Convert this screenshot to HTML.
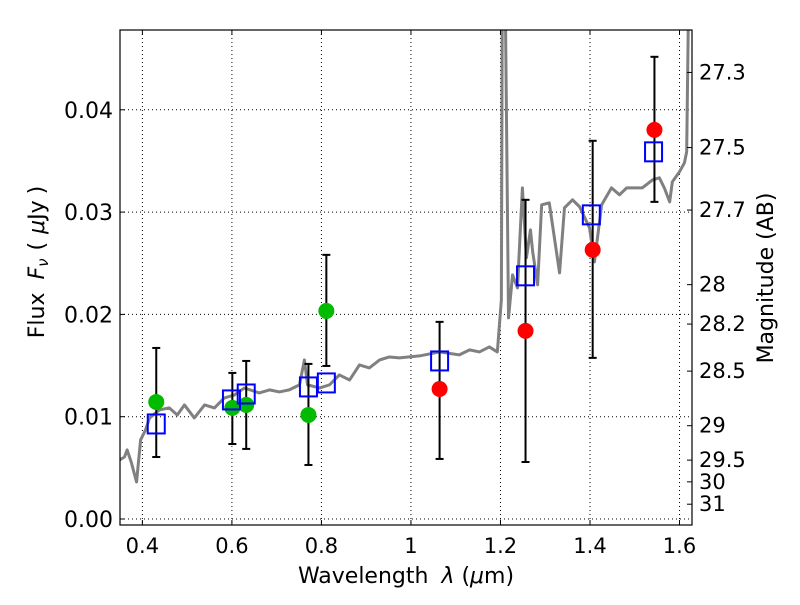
<!DOCTYPE html>
<html><head><meta charset="utf-8"><style>
body{margin:0;background:#fff;}
svg text{font-family:"DejaVu Sans","Liberation Sans",sans-serif;fill:#000;}
</style></head><body>
<svg id="chart" width="800" height="600" xmlns="http://www.w3.org/2000/svg">
<g id="grid"></g>
<g id="spec"></g>
<g id="marks"></g>
<g id="axes"></g>
<text x="406" y="583" font-size="22" text-anchor="middle">Wavelength <tspan dx="6" font-style="italic">λ</tspan> (<tspan font-style="italic">μ</tspan>m)</text>
<text transform="translate(44,262) rotate(-90)" font-size="22" text-anchor="middle">Flux <tspan dx="6" font-style="italic">F</tspan><tspan font-style="italic" font-size="15" dy="4">ν</tspan><tspan dy="-4" dx="8">(</tspan><tspan dx="8" font-style="italic">μ</tspan>Jy<tspan dx="6">)</tspan></text>
<text transform="translate(773,278) rotate(-90)" font-size="22" text-anchor="middle">Magnitude (AB)</text>
</svg>
<script>
const specWave=[0.349,0.360,0.366,0.375,0.387,0.396,0.407,0.416,0.438,0.460,0.478,0.494,0.516,0.539,0.561,0.583,0.606,0.628,0.661,0.684,0.706,0.728,0.751,0.762,0.769,0.796,0.818,0.840,0.863,0.885,0.907,0.930,0.952,0.974,1.019,1.064,1.108,1.131,1.153,1.175,1.193,1.202,1.204,1.211,1.218,1.227,1.238,1.249,1.258,1.267,1.272,1.283,1.292,1.309,1.332,1.343,1.361,1.377,1.399,1.410,1.426,1.448,1.466,1.482,1.517,1.540,1.555,1.566,1.578,1.584,1.600,1.611,1.616,1.620];
const specFlux=[0.00577,0.00606,0.00675,0.00557,0.00362,0.00773,0.00870,0.00988,0.01066,0.01086,0.01017,0.01115,0.00988,0.01115,0.01086,0.01183,0.01213,0.01281,0.01232,0.01262,0.01242,0.01262,0.01311,0.01555,0.01311,0.01281,0.01311,0.01408,0.01359,0.01506,0.01477,0.01555,0.01584,0.01575,0.01594,0.01633,0.01604,0.01653,0.01633,0.01682,0.01633,0.02142,0.0498,0.0498,0.01966,0.02386,0.02259,0.03237,0.02553,0.02826,0.02611,0.02289,0.03071,0.03090,0.02406,0.03042,0.03120,0.03051,0.02846,0.02513,0.03071,0.03237,0.03169,0.03237,0.03237,0.03315,0.03335,0.03237,0.03100,0.03296,0.03394,0.03482,0.03589,0.0498];
const greenWave=[0.431,0.601,0.632,0.771,0.811];
const greenFlux=[0.01144,0.01086,0.01115,0.01017,0.02034];
const redWave=[1.064,1.256,1.406,1.544];
const redFlux=[0.01271,0.01839,0.02631,0.03804];
const boxWave=[0.431,0.599,0.632,0.771,0.811,1.064,1.256,1.403,1.542];
const boxFlux=[0.00929,0.01164,0.01222,0.01291,0.0133,0.01545,0.02377,0.02973,0.03589];
const errWave=[0.431,0.601,0.632,0.771,0.811,1.064,1.256,1.406,1.544];
const errHigh=[0.01672,0.01428,0.01545,0.01516,0.02582,0.01927,0.03120,0.03697,0.04518];
const errLow=[0.00606,0.00733,0.00685,0.00528,0.01496,0.00587,0.00557,0.01575,0.03100];
const xTicks=[0.4,0.6,0.8,1.0,1.2,1.4,1.6];
const xTickLabels=["0.4","0.6","0.8","1","1.2","1.4","1.6"];
const yTicks=[0,0.01,0.02,0.03,0.04];
const yTickLabels=["0.00","0.01","0.02","0.03","0.04"];
const magTicks=[27.3,27.5,27.7,28,28.2,28.5,29,29.5,30,31];
const magTickLabels=["27.3","27.5","27.7","28","28.2","28.5","29","29.5","30","31"];

const L=120,R=692,T=30,B=525;
const X0=0.35,X1=1.6279,Y0=-0.000587,Y1=0.0478;
const sx=v=>L+(v-X0)/(X1-X0)*(R-L);
const sy=v=>B-(v-Y0)/(Y1-Y0)*(B-T);
const NS="http://www.w3.org/2000/svg";
function mk(tag,attrs,parent){const e=document.createElementNS(NS,tag);for(const k in attrs)e.setAttribute(k,attrs[k]);parent.appendChild(e);return e;}
const svg=document.getElementById('chart');
const defs=mk('defs',{},svg);const cp=mk('clipPath',{id:'clip'},defs);mk('rect',{x:L,y:T,width:R-L,height:B-T},cp);
const grid=document.getElementById('grid'),axes=document.getElementById('axes');
xTicks.forEach((t,i)=>{const x=sx(t);
 const g=mk('line',{x1:x,x2:x,y1:T,y2:B,stroke:'#000','stroke-width':1,'stroke-dasharray':'1,3'},grid);
 
 mk('line',{x1:x,x2:x,y1:B,y2:B-5,stroke:'#000'},axes);mk('line',{x1:x,x2:x,y1:T,y2:T+5,stroke:'#000'},axes);
 const tx=mk('text',{x:x,y:B+28,'font-size':21,'text-anchor':'middle'},axes);tx.textContent=xTickLabels[i];
 });
yTicks.forEach((t,i)=>{const y=sy(t);
 const g=mk('line',{x1:L,x2:R,y1:y,y2:y,stroke:'#000','stroke-width':1,'stroke-dasharray':'1,3'},grid);
 
 mk('line',{x1:L,x2:L+5,y1:y,y2:y,stroke:'#000'},axes);
 const tx=mk('text',{x:L-7,y:y+8,'font-size':22,'text-anchor':'end'},axes);tx.textContent=yTickLabels[i];
 });
magTicks.forEach((m,i)=>{const f=Math.pow(10,(23.9-m)/2.5);const y=sy(f);
 mk('line',{x1:R,x2:R-5,y1:y,y2:y,stroke:'#000'},axes);
 const tx=mk('text',{x:R+7,y:y+7,'font-size':21},axes);tx.textContent=magTickLabels[i];
 });
const frame=mk('rect',{x:L,y:T,width:R-L,height:B-T,fill:'none',stroke:'#000','stroke-width':1.2},axes);

const sp=document.getElementById('spec');sp.setAttribute('clip-path','url(#clip)');
const pts=specWave.map((w,i)=>sx(w)+','+sy(specFlux[i])).join(' ');
const pl=mk('polyline',{points:pts,fill:'none',stroke:'#808080','stroke-width':3,'stroke-linejoin':'round'},sp);

const mg=document.getElementById('marks');
errWave.forEach((w,i)=>{const x=sx(w),y1=sy(errHigh[i]),y2=sy(errLow[i]);
 const g=mk('g',{stroke:'#000','stroke-width':2},mg);
 
 mk('line',{x1:x,x2:x,y1:y1,y2:y2},g);mk('line',{x1:x-4,x2:x+4,y1:y1,y2:y1},g);mk('line',{x1:x-4,x2:x+4,y1:y2,y2:y2},g);});
greenWave.forEach((w,i)=>{const c=mk('circle',{cx:sx(w),cy:sy(greenFlux[i]),r:8,fill:'#00bb00'},mg);
 });
redWave.forEach((w,i)=>{const c=mk('circle',{cx:sx(w),cy:sy(redFlux[i]),r:8,fill:'#ff0000'},mg);
 });
boxWave.forEach((w,i)=>{const r=mk('rect',{x:sx(w)-8.5,y:sy(boxFlux[i])-9.5,width:17,height:19,fill:'none',stroke:'#0000ff','stroke-width':2},mg);
 });
</script>
</body></html>
